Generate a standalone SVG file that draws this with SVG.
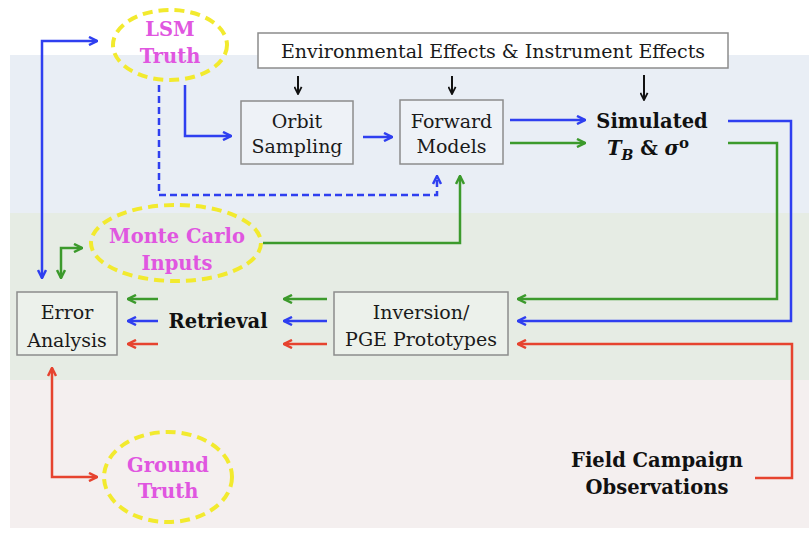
<svg xmlns="http://www.w3.org/2000/svg" width="809" height="535" viewBox="0 0 809 535">
<style>
.reg{font-family:"DejaVu Serif","Liberation Serif",serif;font-size:19px;fill:#1a1a1a;text-anchor:middle}
.bold{font-family:"DejaVu Serif","Liberation Serif",serif;font-size:19.5px;font-weight:bold;fill:#111;text-anchor:middle}
.mag{font-family:"DejaVu Serif","Liberation Serif",serif;font-size:19.5px;font-weight:bold;fill:#e056e0;text-anchor:middle}
.box{fill:#ffffff;fill-opacity:0.25;stroke:#8c8c8c;stroke-width:1.5}
.oval{fill:none;stroke:#f2ea2e;stroke-width:4;stroke-dasharray:10 6}
.c{fill:none;stroke-width:2.5;stroke-linejoin:miter}
.b{stroke:#2f3ff0}
.g{stroke:#3c9a2c}
.r{stroke:#e6432f}
.k{stroke:#111;stroke-width:2}
</style>
<defs>
<marker id="aB" viewBox="0 0 10 10" refX="9" refY="5" markerWidth="10" markerHeight="10" markerUnits="userSpaceOnUse" orient="auto-start-reverse"><path d="M1,1 L9,5 L1,9" fill="none" stroke="#2f3ff0" stroke-width="2.5"/></marker>
<marker id="aG" viewBox="0 0 10 10" refX="9" refY="5" markerWidth="10" markerHeight="10" markerUnits="userSpaceOnUse" orient="auto-start-reverse"><path d="M1,1 L9,5 L1,9" fill="none" stroke="#3c9a2c" stroke-width="2.5"/></marker>
<marker id="aR" viewBox="0 0 10 10" refX="9" refY="5" markerWidth="10" markerHeight="10" markerUnits="userSpaceOnUse" orient="auto-start-reverse"><path d="M1,1 L9,5 L1,9" fill="none" stroke="#e6432f" stroke-width="2.5"/></marker>
<marker id="aK" viewBox="0 0 10 10" refX="9" refY="5" markerWidth="9" markerHeight="9" markerUnits="userSpaceOnUse" orient="auto-start-reverse"><path d="M1,1 L9,5 L1,9" fill="none" stroke="#111" stroke-width="2"/></marker>
</defs>
<rect x="0" y="0" width="809" height="535" fill="#ffffff"/>
<rect x="10" y="55" width="799" height="158" fill="#e9eef5"/>
<rect x="10" y="213" width="799" height="167" fill="#e6ece4"/>
<rect x="10" y="380" width="799" height="148" fill="#f4efef"/>

<g id="connectors">
<path class="c b" d="M42,278 L42,41 L97,41" marker-start="url(#aB)" marker-end="url(#aB)"/>
<path class="c b" d="M185,85 L185,136 L231,136" marker-end="url(#aB)"/>
<path class="c b" d="M159,85 L159,195 L437,195 L437,176" stroke-dasharray="7 4" marker-end="url(#aB)"/>
<path class="c b" d="M363,137 L392,137" marker-end="url(#aB)"/>
<path class="c k" d="M298,76 L298,94" marker-end="url(#aK)"/>
<path class="c k" d="M452,76 L452,94" marker-end="url(#aK)"/>
<path class="c k" d="M644,75 L644,100" marker-end="url(#aK)"/>
<path class="c b" d="M510,120 L585,120" marker-end="url(#aB)"/>
<path class="c g" d="M510,143 L585,143" marker-end="url(#aG)"/>
<path class="c b" d="M728,121 L791,121 L791,321 L518,321" marker-end="url(#aB)"/>
<path class="c g" d="M728,143 L777,143 L777,299 L518,299" marker-end="url(#aG)"/>
<path class="c r" d="M755,478 L792,478 L792,344 L518,344" marker-end="url(#aR)"/>
<path class="c g" d="M327,299 L284,299" marker-end="url(#aG)"/>
<path class="c b" d="M327,321 L284,321" marker-end="url(#aB)"/>
<path class="c r" d="M327,344 L284,344" marker-end="url(#aR)"/>
<path class="c g" d="M158,299 L128,299" marker-end="url(#aG)"/>
<path class="c b" d="M158,321 L128,321" marker-end="url(#aB)"/>
<path class="c r" d="M158,344 L128,344" marker-end="url(#aR)"/>
<path class="c g" d="M263,243 L460,243 L460,176" marker-end="url(#aG)"/>
<path class="c g" d="M61,278 L61,248 L82,248" marker-start="url(#aG)" marker-end="url(#aG)"/>
<path class="c r" d="M52,368 L52,477 L97,477" marker-start="url(#aR)" marker-end="url(#aR)"/>
</g>

<g id="env">
<rect x="258" y="33" width="470" height="35" fill="#ffffff" stroke="#8c8c8c" stroke-width="1.5"/>
<text class="reg" x="493" y="58">Environmental Effects &amp; Instrument Effects</text>
</g>
<g id="lsm">
<ellipse class="oval" cx="170" cy="45" rx="57" ry="35"/>
<text class="mag" x="170" y="36">LSM</text>
<text class="mag" x="170" y="63">Truth</text>
</g>
<g id="orbit">
<rect class="box" x="241" y="101" width="112" height="63"/>
<text class="reg" x="297" y="128">Orbit</text>
<text class="reg" x="297" y="153">Sampling</text>
</g>
<g id="forward">
<rect class="box" x="400" y="100" width="103" height="64"/>
<text class="reg" x="451.5" y="128">Forward</text>
<text class="reg" x="451.5" y="153">Models</text>
</g>
<g id="simulated">
<text class="bold" x="652" y="128" font-size="20.5">Simulated</text>
<text class="bold" x="648" y="155" font-size="22"><tspan font-style="italic">T</tspan><tspan font-style="italic" font-size="14" dy="5">B</tspan><tspan dy="-5"> &amp; </tspan><tspan font-style="italic">σ</tspan><tspan font-size="15" dy="-7">o</tspan></text>
</g>
<g id="montecarlo">
<ellipse class="oval" cx="176" cy="243" rx="85" ry="38"/>
<text class="mag" x="177" y="243">Monte Carlo</text>
<text class="mag" x="177" y="270">Inputs</text>
</g>
<g id="error">
<rect class="box" x="17" y="292" width="100" height="63"/>
<text class="reg" x="67" y="319">Error</text>
<text class="reg" x="67" y="347">Analysis</text>
</g>
<g id="retrieval">
<text class="bold" x="218" y="328">Retrieval</text>
</g>
<g id="inversion">
<rect class="box" x="334" y="292" width="174" height="63"/>
<text class="reg" x="421" y="319">Inversion/</text>
<text class="reg" x="421" y="346">PGE Prototypes</text>
</g>
<g id="ground">
<ellipse class="oval" cx="168" cy="477" rx="64" ry="45"/>
<text class="mag" x="168" y="472">Ground</text>
<text class="mag" x="168" y="498">Truth</text>
</g>
<g id="field">
<text class="bold" x="657" y="467">Field Campaign</text>
<text class="bold" x="657" y="494">Observations</text>
</g>
</svg>
